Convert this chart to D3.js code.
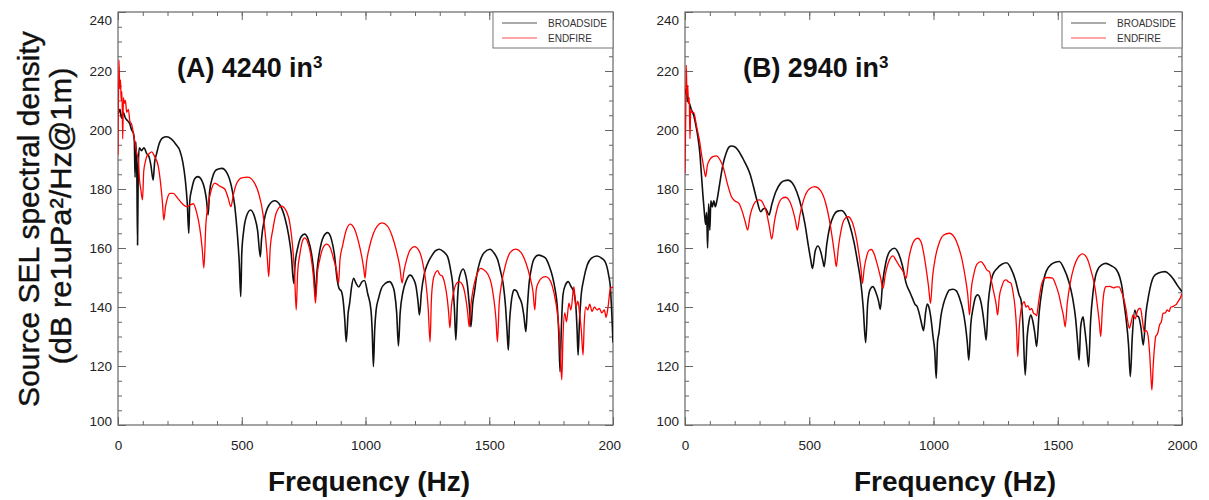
<!DOCTYPE html>
<html>
<head>
<meta charset="utf-8">
<script src="https://cdn.jsdelivr.net/npm/d3@7"></script>
<style>
  body { margin: 0; background: #fff; }
  svg { display: block; font-family: "Liberation Sans", Arial, sans-serif; }
</style>
</head>
<body>
<div id="chart"></div>
<script>
// tick labels
const freqTicks = [0, 500, 1000, 1500, 2000]
const dbTicks = [100, 120, 140, 160, 180, 200, 220, 240]
const seriesNames = ['BROADSIDE', 'ENDFIRE']
const panelTitles = ['(A) 4240 in', '(B) 2940 in']

// values: [frequency Hz, dB]
const broadsideA = [
  [0,205],[8,207],[14,204],[21,206],[30,204],[40,203],[48,202],[55,200],[62,199],[66,196],[69,184],[72,196],[76,186],[79,161],[82,188],
  [86,194],[95,193],[105,194],[116,192],[125,191],[133,188],[142,183],[148,189],[156,192],[165,195],[180,197.3],[196,197.7],[215,197],
  [235,195],[250,193],[262,189],[272,183],[280,175],[286,165],[290,176],[298,180],[310,183.5],[323,184.2],[338,183],[350,180],[358,176],
  [364,171.2],[370,179],[382,184],[398,186.5],[420,187],[440,185.5],[458,181],[472,174],[482,165],[490,155],[496,143.5],[500,158],
  [508,166],[520,171],[536,172.9],[552,170.5],[564,166],[575,157],[580,163],[592,170],[610,174.5],[633,176],[655,174.5],[675,170],
  [690,164],[700,158],[710,148],[716,155],[726,160],[740,163.8],[754,164.7],[768,163],[782,158],[792,151],[798,143.5],[804,152],
  [815,159],[830,163.8],[847,165.2],[862,163],[874,158],[886,149],[895,146],[901,145.6],[910,142],[916,136],[922,128.2],[930,138],
  [936,141.3],[944,147],[952,149.7],[962,148],[973,146.8],[985,148.5],[996,149],[1009,144.5],[1022,139],[1027,132],[1032,119.8],
  [1037,132],[1043,139],[1053,143],[1063,146],[1080,148],[1097,148.6],[1108,147.5],[1117,145],[1126,138],[1133,126.8],[1140,138],
  [1151,145],[1165,149],[1180,150.8],[1194,149.5],[1204,147],[1212,142],[1218,137.3],[1226,145],[1238,151.4],[1250,154.5],[1265,157],
  [1282,159],[1298,159.6],[1315,158.8],[1332,157],[1345,152],[1352,148],[1359,140],[1365,128.8],[1372,143],[1379,150],[1395,152.9],
  [1404,151],[1411,148],[1419,141],[1426,133.3],[1433,141],[1440,145],[1450,151],[1460,154.8],[1480,158.5],[1503,159.6],[1520,158.2],
  [1534,156],[1546,152],[1556,148],[1566,140],[1572,132],[1577,125.4],[1582,135],[1588,141],[1595,144.8],[1601,145.8],[1610,145.5],
  [1620,143.5],[1632,141],[1640,137],[1648,131.6],[1654,140],[1661,148],[1670,153],[1681,156.3],[1699,157.6],[1715,157.2],[1728,156.5],
  [1742,154],[1755,150.5],[1766,146],[1775,140],[1781,131],[1786,118],[1791,132],[1798,144.2],[1808,147.5],[1819,148.6],[1830,147],
  [1842,145],[1851,138.9],[1855,132],[1859,123.7],[1864,134],[1870,142.6],[1882,149.5],[1896,154.2],[1912,156.5],[1935,157.3],
  [1955,156.5],[1970,155],[1982,151],[1990,146],[1996,136],[2000,128]
]
const endfireA = [
  [0,191.5],[4,223.7],[7,214],[10,217],[13,210],[16,213],[19,197],[22,211],[26,209],[30,210],[35,206],[42,207],[48,203],[55,202],
  [62,199],[70,195],[76,192],[82,190],[87,183],[92,180],[99,176.3],[104,186],[110,189],[116,191],[126,192],[136,192.6],[148,191],
  [163,187.6],[172,182],[180,175],[185,169.5],[192,174],[200,177],[210,178.5],[223,178.5],[240,177],[260,175],[277,174],[290,174.5],
  [304,175],[318,172],[330,167],[340,160],[347,153.2],[355,168],[365,175],[378,180],[391,182],[410,181],[431,180],[445,177],[456,174],
  [466,178],[480,182],[500,183.8],[524,184],[548,182.5],[570,178],[585,172],[597,163],[603,157],[609,150.3],[615,160],[625,166],
  [640,172],[660,174.2],[680,172.5],[695,168],[705,161],[713,152],[720,139],[726,152],[735,158],[745,162.3],[754,163.4],[766,162],
  [778,158],[790,150],[798,141.3],[805,151],[815,156],[828,160],[843,161.3],[858,160],[872,156],[884,152],[891,148],[897,156],
  [908,161],[922,166],[938,168.1],[955,166.5],[972,162],[985,157],[993,153],[998,149.8],[1004,155],[1015,160],[1030,164.5],
  [1048,167.5],[1067,168.5],[1088,167.5],[1108,164],[1125,159],[1138,154],[1148,148.1],[1155,152],[1166,156],[1180,159.3],[1198,160.5],
  [1215,159.3],[1230,155.5],[1243,149],[1253,140],[1261,128.2],[1266,142],[1273,149],[1282,151.5],[1291,152.3],[1300,151],[1310,150.5],
  [1320,148],[1330,143],[1336,138],[1341,132.9],[1347,140],[1356,145],[1368,148],[1379,148.6],[1392,147.5],[1405,143],[1413,138],
  [1419,133.3],[1425,140],[1435,146],[1450,151],[1466,153.1],[1480,152.5],[1495,151],[1508,148],[1518,143],[1527,136],[1533,128.2],
  [1540,141],[1550,148],[1565,154],[1585,158.5],[1607,159.6],[1628,158.5],[1648,155],[1665,150],[1677,145],[1684,139],[1690,146],
  [1700,148.5],[1715,150],[1728,150.3],[1742,149.5],[1755,147],[1768,142],[1778,136],[1786,127],[1793,115.3],[1798,130],[1805,138],
  [1812,135],[1822,141.3],[1830,139],[1842,146.9],[1850,140],[1858,142],[1866,137],[1872,132],[1879,123.7],[1884,135],[1890,140],
  [1898,139],[1906,141],[1915,138.5],[1925,140],[1935,139],[1945,139.5],[1955,138],[1965,139],[1972,136.5],[1980,140],[1990,146.4],
  [2000,146.7]
]
const broadsideB = [
  [0,212],[5,214],[10,210],[18,209],[25,207],[35,205],[45,201],[53,197],[60,192],[66,185],[72,178],[78,172],[83,168],[87,172],[91,160],
  [95,175],[100,166],[104,176],[110,174],[116,176],[122,174],[129,176.3],[140,182],[152,188],[165,192],[177,194.2],[187,194.6],
  [200,194.3],[215,193],[235,190],[250,187.5],[262,185],[275,181],[290,176],[305,172.3],[314,173.2],[323,173.5],[330,172.5],[338,171.2],
  [350,175],[365,179],[385,182],[400,182.8],[415,183],[432,182],[450,179],[468,174],[483,168],[496,161],[506,156],[513,153.1],[524,159],
  [535,160.7],[547,158.5],[555,155.5],[560,153.7],[570,161],[582,167],[598,171],[614,172.5],[629,172.7],[645,171.5],[662,168],[680,162],
  [695,155],[708,148],[717,140],[727,127.9],[735,141],[745,146],[756,146.9],[768,145],[779,142],[786,139.2],[795,148],[808,155],
  [825,159],[843,159.9],[860,158],[875,154],[890,148],[905,145],[915,143],[925,141],[935,140],[945,137],[953,134],[960,132],[968,138],
  [975,141],[981,140.1],[990,136],[998,130],[1005,125],[1011,115.8],[1016,128],[1022,131.2],[1030,137],[1040,141],[1052,144],
  [1064,145.8],[1078,146],[1092,145.5],[1105,143],[1118,139],[1128,134],[1136,128],[1142,122],[1150,134],[1160,140],[1170,143.5],
  [1178,144.1],[1190,142],[1200,137],[1207,132],[1212,128.8],[1220,141],[1230,148],[1238,150.8],[1255,153],[1275,154.5],[1294,155],
  [1312,153],[1330,149],[1345,144],[1352,142.4],[1360,134],[1369,116.9],[1377,130],[1385,135.5],[1392,137.3],[1400,135],[1408,131],
  [1415,126.6],[1425,138],[1437,146],[1453,152],[1475,154.5],[1490,155.2],[1506,155.4],[1525,153],[1545,148.5],[1560,143],[1572,136],
  [1580,128],[1586,122],[1592,133],[1598,136],[1602,136.7],[1608,133],[1616,127],[1624,119.8],[1632,135],[1642,145],[1652,150.5],
  [1660,152.5],[1677,154.3],[1694,154.8],[1715,154],[1735,152.8],[1750,150],[1760,146],[1765,142.4],[1775,136],[1785,127],[1792,116.4],
  [1800,130],[1810,139],[1818,137],[1825,136.7],[1835,133],[1844,127.1],[1855,138],[1866,144],[1876,148],[1886,150.3],[1905,151.5],
  [1932,152],[1950,151],[1965,149.5],[1980,147.5],[2000,145.2]
]
const endfireB = [
  [0,185.3],[3,205],[5,222],[8,212],[11,215],[14,209],[17,211],[20,197],[23,207],[28,206],[35,206],[45,202],[52,199],[58,196.6],
  [66,192],[72,189],[78,186],[83,184.2],[90,188],[100,190],[112,191],[126,191.2],[140,190],[155,187],[170,182],[187,177.4],[200,176],
  [217,175.1],[230,172.5],[242,169],[252,166.1],[262,171],[275,174.5],[288,176],[300,176.3],[315,175],[328,172],[340,167],[349,163],
  [360,169],[375,174.5],[390,176.8],[404,177.2],[420,176],[435,172.5],[445,169],[452,166.1],[462,171],[478,176.5],[500,180],
  [522,180.8],[545,179.5],[565,175.5],[582,169],[595,162],[603,157],[609,153.7],[617,160],[628,166],[642,169.8],[656,170.6],[672,169],
  [688,164],[700,158],[708,153],[714,148],[721,153],[732,157.5],[742,159.3],[750,159.5],[762,157.8],[775,154],[787,150],[797,146.3],
  [806,151],[818,155],[830,157],[837,157.3],[848,156],[862,154],[878,152],[890,149.7],[900,156],[912,160.5],[925,162.8],[937,163.3],
  [950,162],[962,157.5],[972,152],[980,147],[988,141.2],[996,150],[1008,157],[1022,161.5],[1040,164.3],[1064,165],[1085,163.5],
  [1100,160.5],[1115,156],[1128,150],[1138,144],[1145,137.3],[1152,146],[1162,151],[1175,154.5],[1191,155.4],[1205,154],[1215,152.5],
  [1225,152],[1235,148],[1245,144],[1252,141],[1258,137.3],[1265,143.5],[1275,147],[1285,149],[1292,149.2],[1302,148.5],[1312,148],
  [1320,145],[1328,140],[1334,133],[1339,123.2],[1345,133],[1352,139],[1358,141],[1365,141.8],[1372,140],[1380,140.5],[1388,139],
  [1395,139.5],[1402,138],[1410,137.5],[1415,137],[1422,141],[1432,146.5],[1446,149.7],[1460,150],[1479,149.8],[1492,147.5],[1505,144],
  [1515,140],[1523,137],[1530,133.3],[1538,141],[1550,148],[1565,153.5],[1583,157],[1600,158],[1618,156.5],[1635,152],[1650,146.5],
  [1660,140],[1667,135],[1673,130],[1680,140],[1687,145.5],[1694,146.9],[1710,147],[1725,146.5],[1735,146.8],[1747,146.8],[1755,145.5],
  [1765,143],[1775,139],[1782,135],[1788,132.8],[1796,135],[1803,137.3],[1812,136],[1820,138.5],[1828,139.5],[1833,139.5],[1840,136],
  [1848,131.6],[1856,132],[1863,130.5],[1870,124],[1876,115],[1879,111.9],[1884,120],[1890,127],[1894,129.9],[1902,131],[1910,134],
  [1917,135],[1924,137.9],[1933,138],[1940,139],[1948,138.5],[1955,140],[1962,140.1],[1970,140.5],[1978,141],[1985,142],[1993,143],
  [2000,144.6]
]

const w = 1209
const h = 500
const plotTop = 12
const plotBottom = 425
const colors = ['#111', '#ff0000']
const widths = [1.6, 1.3]

const svg = d3.select('#chart').append('svg')
  .attr('width', w)
  .attr('height', h)

const panels = [
  { left: 118, right: 613, clipRight: 621, title: panelTitles[0], titleX: 177, labelX: 369, series: [broadsideA, endfireA] },
  { left: 685, right: 1182, clipRight: 1209, title: panelTitles[1], titleX: 743, labelX: 955, series: [broadsideB, endfireB] }
]

panels.forEach((p, pi) => {
  const x = d3.scaleLinear().domain([0, 2000]).range([p.left, p.right])
  const y = d3.scaleLinear().domain([100, 240]).range([plotBottom, plotTop])

  const clipId = 'clip' + pi
  const panelClip = 'pclip' + pi
  const defs = svg.append('defs')
  defs.append('clipPath').attr('id', clipId).append('rect')
    .attr('x', p.left).attr('y', plotTop).attr('width', p.right - p.left).attr('height', plotBottom - plotTop)
  defs.append('clipPath').attr('id', panelClip).append('rect')
    .attr('x', p.left - 60).attr('y', 0).attr('width', p.clipRight - p.left + 60).attr('height', 470)

  const g = svg.append('g').attr('clip-path', `url(#${panelClip})`)

  // ticks: major and minor on all four sides, pointing inward
  const axes = [
    [d3.axisBottom(x).tickValues(freqTicks).tickSize(-8).tickPadding(15).tickFormat(d3.format('d')), plotBottom, 'x'],
    [d3.axisBottom(x).tickValues(x.ticks(20)).tickSize(-4).tickFormat(''), plotBottom, 'x'],
    [d3.axisTop(x).tickValues(freqTicks).tickSize(-8).tickFormat(''), plotTop, 'x'],
    [d3.axisTop(x).tickValues(x.ticks(20)).tickSize(-4).tickFormat(''), plotTop, 'x'],
    [d3.axisLeft(y).tickValues(dbTicks).tickSize(-8).tickPadding(6), p.left, 'y'],
    [d3.axisLeft(y).tickValues(y.ticks(28)).tickSize(-4).tickFormat(''), p.left, 'y'],
    [d3.axisRight(y).tickValues(dbTicks).tickSize(-8).tickFormat(''), p.right, 'y'],
    [d3.axisRight(y).tickValues(y.ticks(28)).tickSize(-4).tickFormat(''), p.right, 'y']
  ]
  axes.forEach(([ax, pos, dir]) => {
    const a = g.append('g')
      .attr('transform', dir === 'x' ? `translate(0,${pos})` : `translate(${pos},0)`)
      .call(ax)
    a.select('.domain').remove()
    a.selectAll('line').attr('stroke', '#666')
    a.selectAll('text').attr('font-size', 13.5).attr('fill', '#222')
      .attr('font-family', '"Liberation Sans", Arial, sans-serif')
  })
  // first and last y labels sit inside the frame, as in the original
  g.selectAll('.tick text').filter(d => d === 240).attr('dy', '0.9em')
  g.selectAll('.tick text').filter(d => d === 100).attr('dy', '0.05em')

  // frame
  g.append('rect')
    .attr('x', p.left).attr('y', plotTop)
    .attr('width', p.right - p.left).attr('height', plotBottom - plotTop)
    .attr('fill', 'none').attr('stroke', '#666').attr('stroke-width', 1.2)

  const line = d3.line()
    .x(d => x(d[0]))
    .y(d => y(d[1]))
    .curve(d3.curveMonotoneX)

  p.series.forEach((s, si) => {
    g.append('path')
      .datum(s)
      .attr('clip-path', `url(#${clipId})`)
      .attr('fill', 'none')
      .attr('stroke', colors[si])
      .attr('stroke-width', widths[si])
      .attr('stroke-linejoin', 'round')
      .attr('d', line)
  })

  // legend
  const lg = g.append('g').attr('transform', `translate(${p.right - 120},${plotTop})`)
  lg.append('rect').attr('width', 120).attr('height', 36)
    .attr('fill', '#fff').attr('stroke', '#777').attr('stroke-width', 1)
  seriesNames.forEach((name, i) => {
    lg.append('line')
      .attr('x1', 9).attr('x2', 44)
      .attr('y1', 11 + i * 15).attr('y2', 11 + i * 15)
      .attr('stroke', colors[i]).attr('stroke-width', 1.2).attr('opacity', 0.7)
    lg.append('text')
      .attr('x', 55).attr('y', 14.5 + i * 15)
      .attr('font-size', 10).attr('fill', '#333')
      .text(name)
  })

  // panel title
  g.append('text')
    .attr('x', p.titleX).attr('y', 77)
    .attr('font-size', 27).attr('font-weight', 'bold').attr('fill', '#111')
    .attr('textLength', 136).attr('lengthAdjust', 'spacingAndGlyphs')
    .text(p.title)
  g.append('text')
    .attr('x', p.titleX + 136).attr('y', 68)
    .attr('font-size', 17).attr('font-weight', 'bold').attr('fill', '#111')
    .text('3')

  // x axis title
  svg.append('text')
    .attr('x', p.labelX).attr('y', 491)
    .attr('text-anchor', 'middle')
    .attr('font-size', 28).attr('font-weight', 'bold').attr('fill', '#111')
    .text('Frequency (Hz)')
})

// y axis title
svg.append('text')
  .attr('transform', 'translate(39,219) rotate(-90)')
  .attr('text-anchor', 'middle')
  .attr('font-size', 30).attr('fill', '#111')
  .attr('stroke', '#111').attr('stroke-width', 0.4)
  .text('Source SEL spectral density')
svg.append('text')
  .attr('transform', 'translate(71,216) rotate(-90)')
  .attr('text-anchor', 'middle')
  .attr('font-size', 30).attr('fill', '#111')
  .attr('stroke', '#111').attr('stroke-width', 0.4)
  .attr('textLength', 297).attr('lengthAdjust', 'spacingAndGlyphs')
  .text('(dB re1uPa²/Hz@1m)')
</script>
</body>
</html>
